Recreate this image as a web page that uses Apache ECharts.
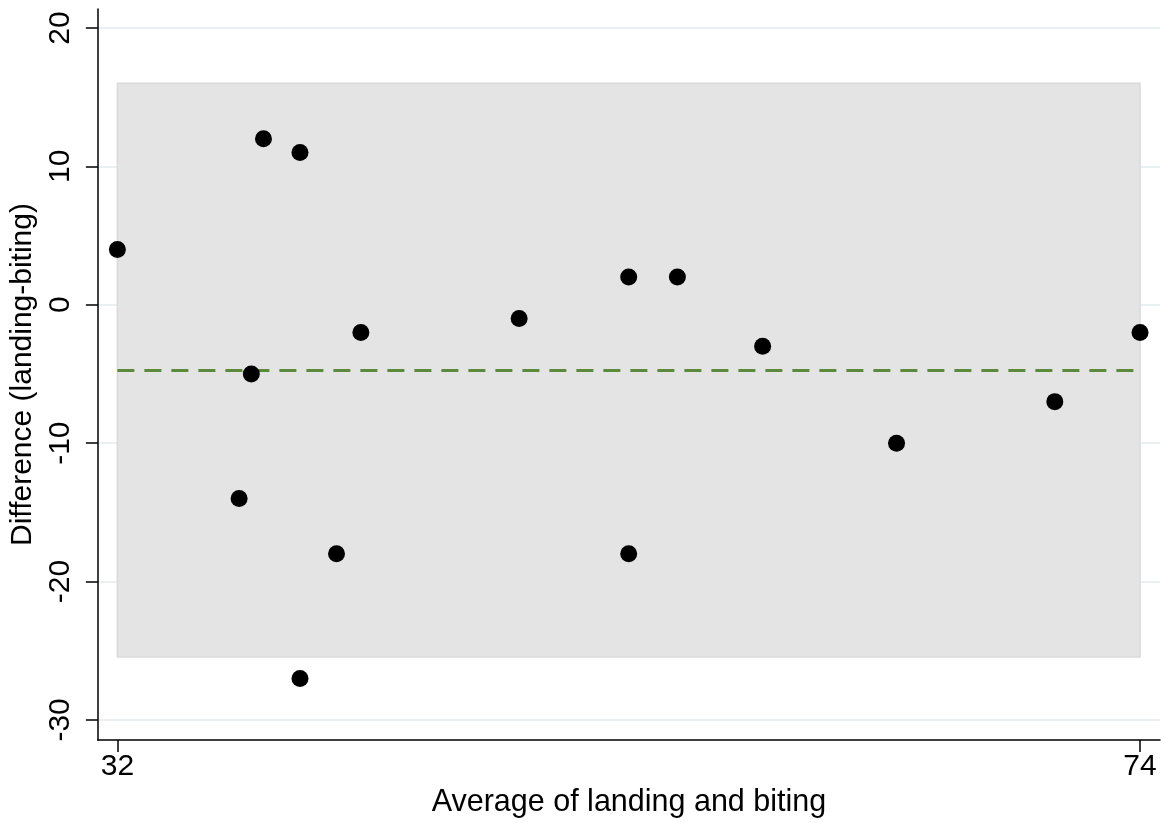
<!DOCTYPE html>
<html>
<head>
<meta charset="utf-8">
<script src="https://cdn.jsdelivr.net/npm/echarts@6/dist/echarts.min.js"></script>
<style>html,body{margin:0;padding:0;background:#fff;}#c{width:1166px;height:823px;}</style>
</head>
<body>
<div id="c"></div>
<script>
// Average of landing and biting (x) and difference landing-biting (y)
const averages = [32, 38, 39.5, 37.5, 37, 42, 41, 39.5, 48.5, 53, 55, 53, 58.5, 64, 70.5, 74];
const differences = [4, 12, 11, -5, -14, -2, -18, -27, -1, 2, 2, -18, -3, -10, -7, -2];
const meanDiff = -4.75;
const upperLimit = 16.0;
const lowerLimit = -25.45;
const xTicks = [32, 74];
const yTicks = [-30, -20, -10, 0, 10, 20];

const FONT = '"Liberation Sans", Arial, Helvetica, sans-serif';
const points = averages.map((a, i) => [a, differences[i]]);
const xLo = Math.min(...averages), xHi = Math.max(...averages);

const chart = echarts.init(document.getElementById('c'));
chart.setOption({
  animation: false,
  backgroundColor: '#fff',
  grid: { left: 97, right: 6, top: 9, bottom: 83 },
  xAxis: {
    type: 'value', min: 31.2, max: 74.82,
    name: 'Average of landing and biting', nameLocation: 'middle', nameGap: 42,
    nameTextStyle: { fontFamily: FONT, fontSize: 30.5, color: '#000' },
    axisLine: { show: true, onZero: false, lineStyle: { color: '#000', width: 1.5 } },
    axisTick: { show: true, length: 12, customValues: xTicks, lineStyle: { color: '#000', width: 1.5 } },
    axisLabel: { customValues: xTicks, margin: 12, fontFamily: FONT, fontSize: 30, color: '#000' },
    splitLine: { show: false }
  },
  yAxis: {
    type: 'value', min: -31.45, max: 21.37,
    name: 'Difference (landing-biting)', nameLocation: 'middle', nameGap: 57,
    nameTextStyle: { fontFamily: FONT, fontSize: 30, color: '#000' },
    axisLine: { show: true, onZero: false, lineStyle: { color: '#000', width: 1.5 } },
    axisTick: { show: true, length: 12, customValues: yTicks, lineStyle: { color: '#000', width: 1.5 } },
    axisLabel: { customValues: yTicks, rotate: 90, margin: 22, fontFamily: FONT, fontSize: 30, color: '#000' },
    splitLine: { show: true, lineStyle: { color: '#eaeff1', width: 2 } }
  },
  series: [{
    type: 'scatter',
    data: points,
    symbol: 'circle',
    symbolSize: 17,
    itemStyle: { color: '#000', opacity: 1 },
    z: 5,
    markArea: {
      silent: true,
      itemStyle: { color: '#e4e4e4', borderColor: '#dadada', borderWidth: 1.5 },
      data: [[{ coord: [xLo, upperLimit] }, { coord: [xHi, lowerLimit] }]]
    },
    markLine: {
      silent: true,
      symbol: ['none', 'none'],
      label: { show: false },
      lineStyle: { color: '#5a8a3a', width: 3, type: [17, 10] },
      data: [[{ coord: [xLo, meanDiff] }, { coord: [xHi, meanDiff] }]]
    }
  }]
});
</script>
</body>
</html>
